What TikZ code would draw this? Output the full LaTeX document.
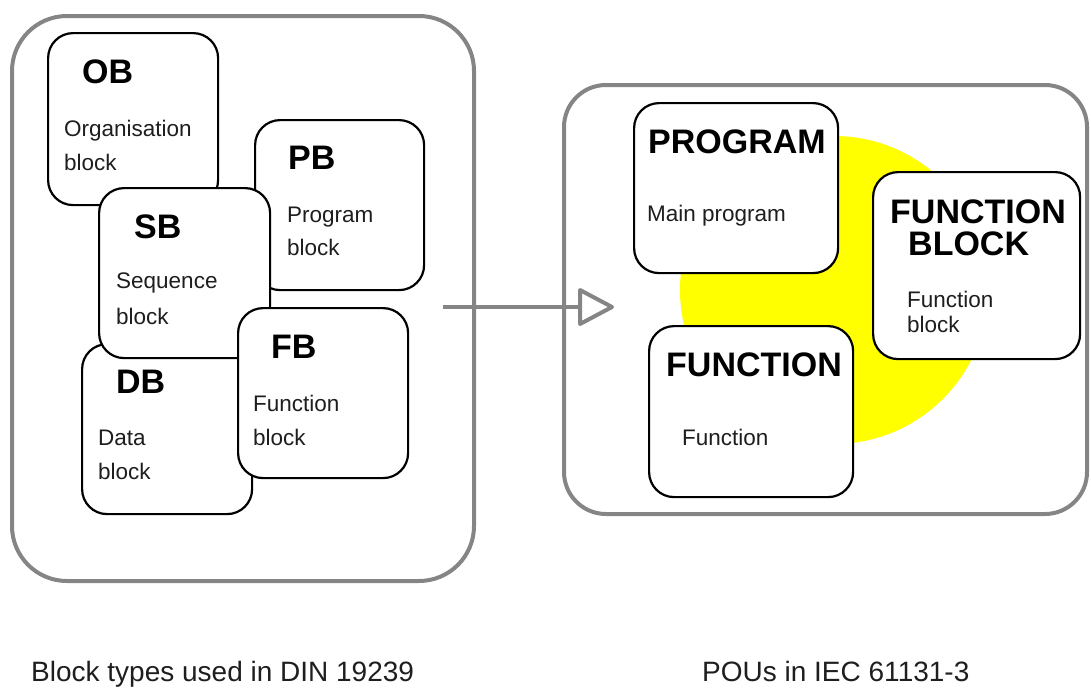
\documentclass[tikz,border=0pt]{standalone}
\usepackage{fontspec}
\setmainfont{Liberation Sans}
\definecolor{panelgray}{HTML}{858585}
\definecolor{textgray}{HTML}{1E1E1E}
\definecolor{sunyellow}{HTML}{FFFF00}
\begin{document}
\begin{tikzpicture}[x=1pt,y=-1pt,
  panel/.style={draw=panelgray, line width=4pt, rounded corners=#1},
  blk/.style={draw=black, line width=2.2pt, fill=white, rounded corners=25pt,
    anchor=north west, inner sep=0pt},
  head/.style={font=\fontsize{34}{35}\selectfont\bfseries, anchor=base west, inner sep=0pt},
  sub/.style={font=\fontsize{22.5}{34}\selectfont, text=textgray, anchor=base west, inner sep=0pt},
  caption/.style={font=\fontsize{28}{30}\selectfont, text=textgray, anchor=base west, inner sep=0pt},
  link/.style={draw=panelgray, line width=4pt, line join=round}
]
\useasboundingbox (0,0) rectangle (1091,688);

% the two panels
\draw[panel=55pt] (12,16) rectangle (474,581);
\draw[panel=42pt] (564,85) rectangle (1087,514);

% highlight behind the IEC program organisation units
\fill[sunyellow] (834,290) circle (154);

% DIN 19239 block types, stacked
\node[blk, minimum width=170pt, minimum height=172pt] (ob) at (47,32) {};
\node[head] (obT) at (82,83) {OB};
\node[sub] (obA) at (64,136) {Organisation};
\node[sub] (obB) at (64,170) {block};

\node[blk, minimum width=169pt, minimum height=170pt] (pb) at (254,119) {};
\node[head] (pbT) at (288,169) {PB};
\node[sub] (pbA) at (287,222) {Program};
\node[sub] (pbB) at (287,255) {block};

\node[blk, minimum width=170pt, minimum height=170pt] (db) at (81,343) {};
\node[head] (dbT) at (116,393) {DB};
\node[sub] (dbA) at (98,445) {Data};
\node[sub] (dbB) at (98,479) {block};

\node[blk, minimum width=171pt, minimum height=170pt] (sb) at (98,187) {};
\node[head] (sbT) at (134,238) {SB};
\node[sub] (sbA) at (116,288) {Sequence};
\node[sub] (sbB) at (116,324) {block};

\node[blk, minimum width=170pt, minimum height=170pt] (fb) at (237,307) {};
\node[head] (fbT) at (271,358) {FB};
\node[sub] (fbA) at (253,411) {Function};
\node[sub] (fbB) at (253,445) {block};

% IEC 61131-3 POUs
\node[blk, minimum width=204pt, minimum height=170pt] (prg) at (633,102) {};
\node[head] (prgT) at (648,153) {PROGRAM};
\node[sub] (prgA) at (647,221) {Main program};

\node[blk, minimum width=207pt, minimum height=187pt] (fbk) at (872,171) {};
\node[head] (fbkT) at (890,223) {FUNCTION};
\node[head] (fbkU) at (908,255) {BLOCK};
\node[sub] (fbkA) at (907,307) {Function};
\node[sub] (fbkB) at (907,332) {block};

\node[blk, minimum width=204pt, minimum height=171pt] (fun) at (648,325) {};
\node[head] (funT) at (666,376) {FUNCTION};
\node[sub] (funA) at (682,445) {Function};

% transition arrow between the panels
\coordinate (arrFrom) at (443,307);
\coordinate (arrBase) at (580,307);
\coordinate (arrTip) at (612,307);
\draw[link] (arrFrom) -- (arrBase);
\draw[link, fill=white] ([yshift=-17pt]arrBase) -- (arrTip) -- ([yshift=17pt]arrBase) -- cycle;

% captions
\node[caption] (capL) at (31,681) {Block types used in DIN 19239};
\node[caption] (capR) at (702,681) {POUs in IEC 61131-3};
\end{tikzpicture}
\end{document}
